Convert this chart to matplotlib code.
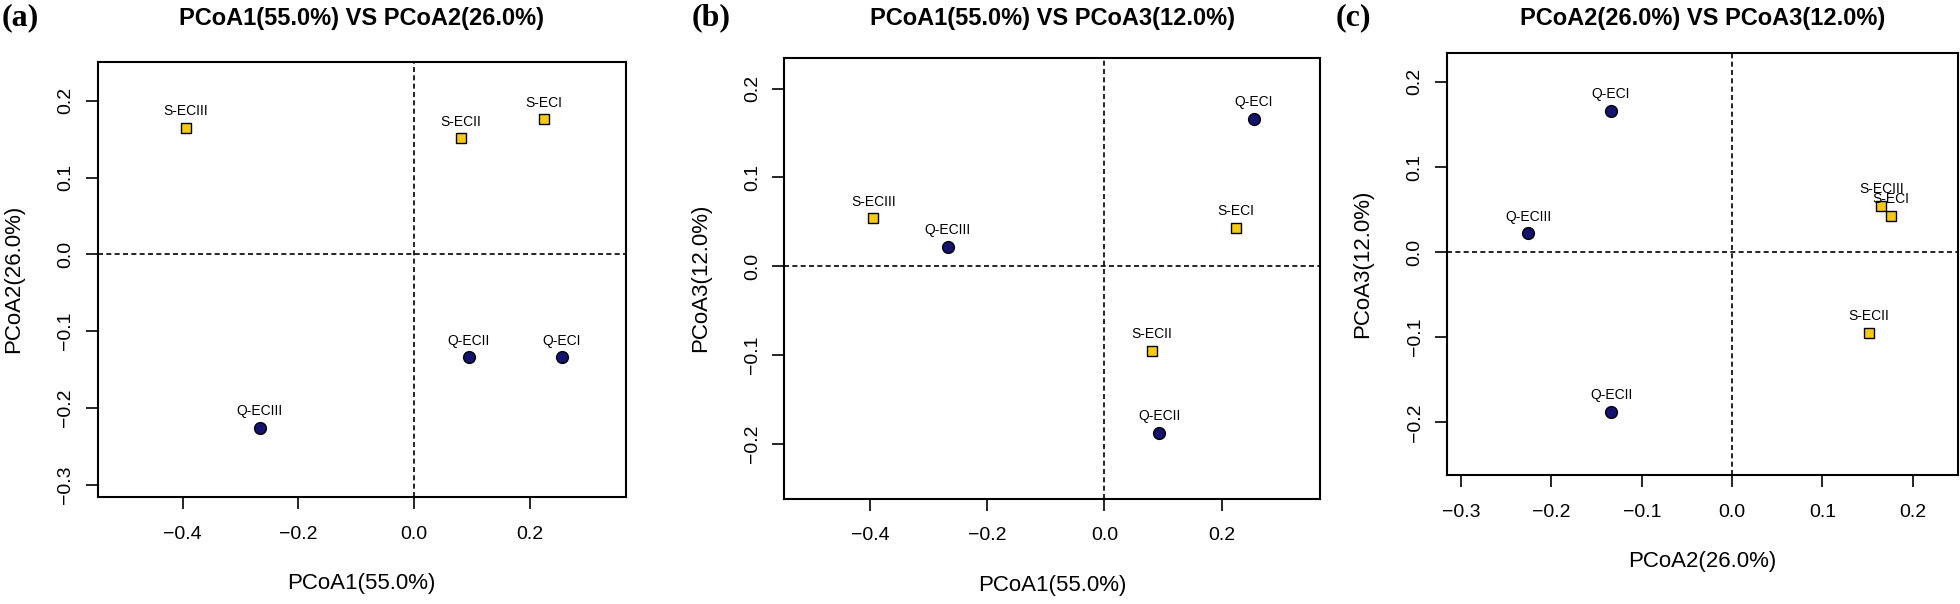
import matplotlib
matplotlib.use("Agg")
import matplotlib.pyplot as plt

plt.rcParams["font.family"] = ["Liberation Sans", "DejaVu Sans"]

# sample scores on the first three PCoA axes
samples = ["S-ECI", "S-ECII", "S-ECIII", "Q-ECI", "Q-ECII", "Q-ECIII"]
pcoa1 = [0.224, 0.081, -0.394, 0.255, 0.094, -0.267]
pcoa2 = [0.176, 0.151, 0.165, -0.134, -0.134, -0.226]
pcoa3 = [0.043, -0.095, 0.054, 0.166, -0.188, 0.022]
group = ["S", "S", "S", "Q", "Q", "Q"]

axis_names = {"PCoA1": "PCoA1(55.0%)", "PCoA2": "PCoA2(26.0%)", "PCoA3": "PCoA3(12.0%)"}
scores = {"PCoA1": pcoa1, "PCoA2": pcoa2, "PCoA3": pcoa3}

x_ticks = {"PCoA1": [-0.4, -0.2, 0.0, 0.2], "PCoA2": [-0.3, -0.2, -0.1, 0.0, 0.1, 0.2]}
y_ticks = {"PCoA2": [-0.3, -0.2, -0.1, 0.0, 0.1, 0.2], "PCoA3": [-0.2, -0.1, 0.0, 0.1, 0.2]}

W, H = 1960, 604
fig = plt.figure(figsize=(W / 100, H / 100), dpi=100)

# panel: (letter, x axis, y axis, box in pixels [left, top, right, bottom], xlim, ylim)
panels = [
    ("(a)", "PCoA1", "PCoA2", (97.5, 61.7, 626, 497), (-0.547, 0.366), (-0.316, 0.251)),
    ("(b)", "PCoA1", "PCoA3", (784.3, 57.7, 1320, 498.7), (-0.546, 0.368), (-0.262, 0.235)),
    ("(c)", "PCoA2", "PCoA3", (1446.7, 53, 1958, 475), (-0.316, 0.250), (-0.262, 0.234)),
]
letter_x = [2, 692, 1336]

style = {
    "S": dict(marker="s", color="#F6C915", ms=7.5),
    "Q": dict(marker="o", color="#14146E", ms=8.5),
}

for (letter, xk, yk, box, xlim, ylim), lx in zip(panels, letter_x):
    l, t, r, b = box
    ax = fig.add_axes([l / W, 1 - b / H, (r - l) / W, (b - t) / H])
    xs, ys = scores[xk], scores[yk]

    ax.axhline(0, color="black", ls=(0, (3, 2)), lw=1.2)
    ax.axvline(0, color="black", ls=(0, (3, 2)), lw=1.2)

    for name, x, y, g in zip(samples, xs, ys, group):
        st = style[g]
        ax.plot(x, y, linestyle="none", marker=st["marker"], ms=st["ms"],
                markerfacecolor=st["color"], markeredgecolor="black", markeredgewidth=1.0)
        ax.annotate(name, (x, y), xytext=(0, 12), textcoords="offset points",
                    ha="center", va="center", fontsize=10)

    ax.set_xlim(*xlim)
    ax.set_ylim(*ylim)
    ax.set_xticks(x_ticks[xk])
    ax.set_yticks(y_ticks[yk])
    ax.set_xticklabels([f"{v:.1f}".replace("-", "\u2212") for v in x_ticks[xk]])
    ax.set_yticklabels([f"{v:.1f}".replace("-", "\u2212") for v in y_ticks[yk]],
                       rotation=90, va="center")
    ax.tick_params(direction="out", length=8.6, width=1.2, labelsize=14, colors="black")
    ax.tick_params(axis="x", pad=12)
    ax.tick_params(axis="y", pad=8)
    for s in ax.spines.values():
        s.set_linewidth(1.5)

    ax.set_xlabel(axis_names[xk], fontsize=16)
    ax.set_ylabel(axis_names[yk], fontsize=16)
    ax.xaxis.set_label_coords(0.5, -87 / (b - t))
    ax.xaxis.label.set_va("center")
    ax.yaxis.set_label_coords(-84 / (r - l), 0.5)
    ax.yaxis.label.set_va("center")

    title = f"{axis_names[xk]} VS {axis_names[yk]}"
    fig.text((l + r) / 2 / W, 1 - 18 / H, title, ha="center", va="center",
             fontsize=17, fontweight="bold")
    fig.text(lx / W, 1 - 18 / H, letter, ha="left", va="center", fontsize=23,
             fontweight="bold", family=["Liberation Serif", "DejaVu Serif"])

fig.savefig("out.png", dpi=100)
